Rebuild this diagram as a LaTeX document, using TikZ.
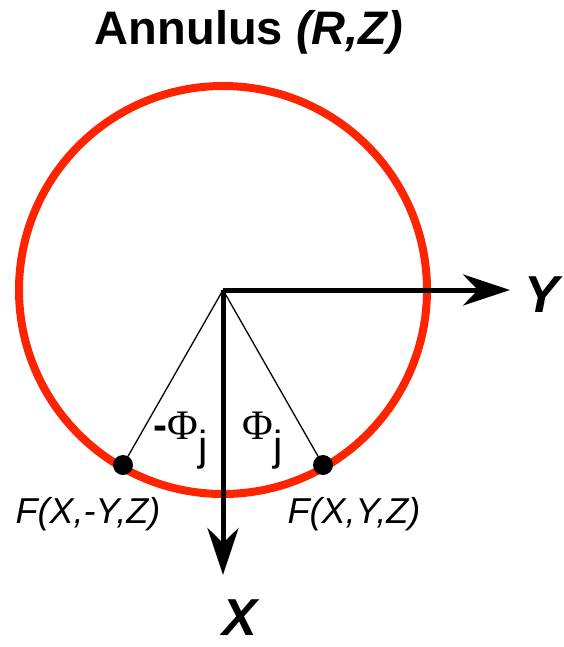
\documentclass[tikz,border=0pt]{standalone}
\usepackage{fontspec}
\setmainfont{Liberation Sans}
\newfontfamily\phifont{Liberation Serif}
\usetikzlibrary{arrows.meta, positioning}
\definecolor{ringred}{RGB}{255,36,0}

\begin{document}
\begin{tikzpicture}[x=1pt, y=-1pt,
    ring/.style={draw=ringred, line width=8pt},
    axis/.style={line width=5pt, -{Stealth[length=47pt, width=31pt, inset=15pt]}},
    spoke/.style={line width=1.3pt},
    pt/.style={circle, fill=black, inner sep=0pt, minimum size=20pt},
    lbl/.style={font=\fontsize{36}{40}\selectfont\itshape, anchor=base},
    axlbl/.style={font=\fontsize{52}{56}\selectfont\bfseries\itshape, anchor=base},
    ang/.style={font=\fontsize{42}{46}\selectfont, anchor=base}]
    \useasboundingbox (0,0) rectangle (563,647);
    \coordinate (O) at (223,290);
    \coordinate (ytip) at (510,290);
    \coordinate (xtip) at (223,575);
    \node[font=\fontsize{47}{50}\selectfont\bfseries, anchor=base] (title) at (249,45) {Annulus \textit{(R,Z)}};
    \draw[ring] (O) circle[radius=204];
    \node[pt] (fm) at (123,465) {};
    \node[pt] (fp) at (323,465) {};
    \draw[spoke] (O) -- (fm.center);
    \draw[spoke] (O) -- (fp.center);
    \draw[axis] (O) -- (ytip);
    \draw[axis] (O) -- (xtip);
    \node[axlbl, anchor=base west, inner xsep=0pt] (ylbl) at (524,312) {Y};
    \node[axlbl, inner ysep=0pt] (xlbl) at (240,635) {X};
    \node[ang] (phim) at (181,439) {\textbf{-}{\phifont Φ}$_{\mbox{j}}$};
    \node[ang] (phip) at (263,439) {{\phifont Φ}$_{\mbox{j}}$};
    \node[lbl] (lfm) at (88,523) {F(X,-Y,Z)};
    \node[lbl] (lfp) at (354,523) {F(X,Y,Z)};
\end{tikzpicture}
\end{document}
